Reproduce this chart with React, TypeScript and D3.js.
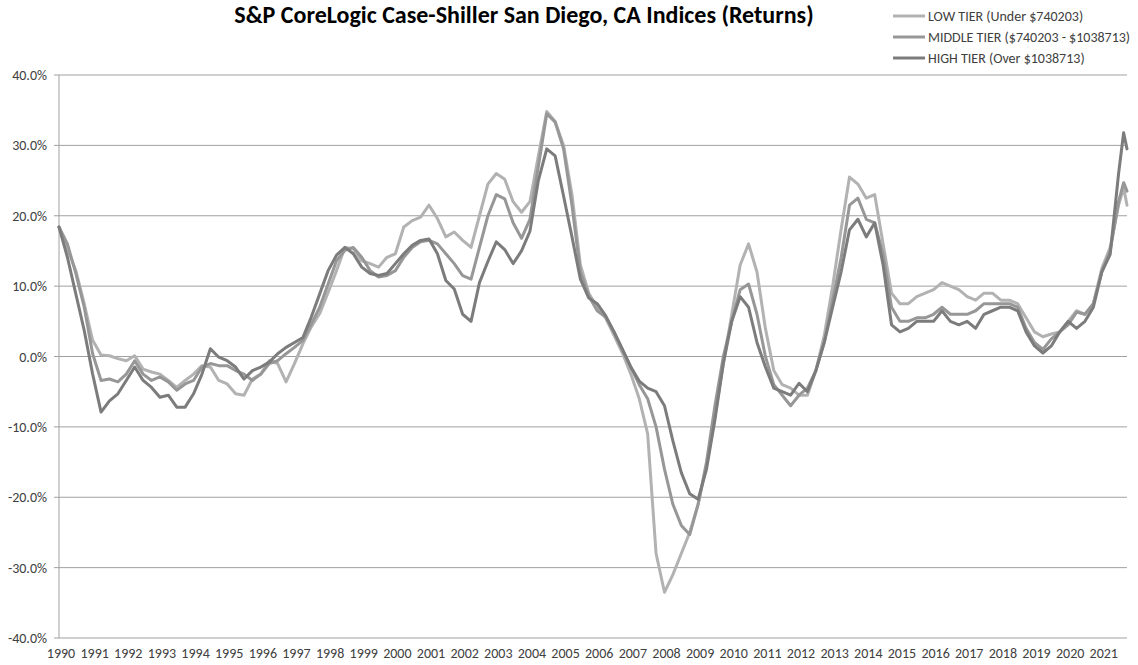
import React from 'react';
import * as d3 from 'd3';

const chartTitle = 'S&P CoreLogic Case-Shiller San Diego, CA Indices (Returns)';
const seriesNames = ['LOW TIER (Under $740203)', 'MIDDLE TIER ($740203 - $1038713)', 'HIGH TIER (Over $1038713)'];
const seriesColors = ['#b2b2b2', '#979797', '#7c7c7c'];
const yearLabels = ['1990','1991','1992','1993','1994','1995','1996','1997','1998','1999','2000','2001','2002','2003','2004','2005','2006','2007','2008','2009','2010','2011','2012','2013','2014','2015','2016','2017','2018','2019','2020','2021'];
const yTicks = [40, 30, 20, 10, 0, -10, -20, -30, -40];

const times = [
  1990.00,1990.25,1990.50,1990.75,1991.00,1991.25,1991.50,1991.75,1992.00,1992.25,1992.50,1992.75,
  1993.00,1993.25,1993.50,1993.75,1994.00,1994.25,1994.50,1994.75,1995.00,1995.25,1995.50,1995.75,
  1996.00,1996.25,1996.50,1996.75,1997.00,1997.25,1997.50,1997.75,1998.00,1998.25,1998.50,1998.75,
  1999.00,1999.25,1999.50,1999.75,2000.00,2000.25,2000.50,2000.75,2001.00,2001.25,2001.50,2001.75,
  2002.00,2002.25,2002.50,2002.75,2003.00,2003.25,2003.50,2003.75,2004.00,2004.25,2004.50,2004.75,
  2005.00,2005.25,2005.50,2005.75,2006.00,2006.25,2006.50,2006.75,2007.00,2007.25,2007.50,2007.75,
  2008.00,2008.25,2008.50,2008.75,2009.00,2009.25,2009.50,2009.75,2010.00,2010.25,2010.50,2010.75,
  2011.00,2011.25,2011.50,2011.75,2012.00,2012.25,2012.50,2012.75,2013.00,2013.25,2013.50,2013.75,
  2014.00,2014.25,2014.50,2014.75,2015.00,2015.25,2015.50,2015.75,2016.00,2016.25,2016.50,2016.75,
  2017.00,2017.25,2017.50,2017.75,2018.00,2018.25,2018.50,2018.75,2019.00,2019.25,2019.50,2019.75,
  2020.00,2020.25,2020.50,2020.75,2021.00,2021.25,2021.50,2021.65,2021.75
];

const lowTier = [
  18.4,15.3,12.2,7.5,2.3,0.2,0.1,-0.3,-0.6,0.1,-1.8,-2.2,
  -2.5,-3.4,-4.4,-3.4,-2.5,-1.3,-1.5,-3.4,-3.9,-5.3,-5.5,-3.2,
  -2.5,-0.6,-1.0,-3.6,-1.0,1.8,4.2,6.1,9.1,12.2,15.5,15.3,
  13.6,13.2,12.7,14.1,14.6,18.4,19.3,19.8,21.5,19.6,17.0,17.7,
  16.5,15.5,20.0,24.5,26.0,25.2,22.0,20.5,22.0,28.5,34.8,33.4,
  30.0,23.0,13.0,9.0,7.0,5.5,3.0,0.5,-2.5,-6.0,-11.0,-28.0,
  -33.5,-31.0,-28.0,-25.0,-21.0,-15.5,-8.5,-1.0,6.0,13.0,16.0,12.0,
  4.0,-2.0,-4.0,-4.5,-5.5,-5.5,-2.0,3.0,10.0,18.0,25.5,24.5,
  22.5,23.0,16.0,9.0,7.5,7.5,8.5,9.0,9.5,10.5,10.0,9.5,
  8.5,8.0,9.0,9.0,8.0,8.0,7.5,5.5,3.5,2.8,3.2,3.5,
  5.0,6.5,6.0,7.5,12.5,15.5,21.5,24.0,21.5
];

const middleTier = [
  18.4,16.0,11.8,7.0,0.4,-3.4,-3.2,-3.6,-2.5,-0.6,-2.5,-3.4,
  -2.9,-3.6,-4.8,-3.9,-3.4,-1.5,-1.0,-1.3,-1.3,-2.0,-2.5,-3.4,
  -2.5,-1.0,-0.6,0.4,1.3,2.3,4.6,7.0,10.3,13.6,15.1,15.5,
  14.1,12.2,11.3,11.5,12.2,14.1,15.5,16.3,16.5,16.0,14.6,13.2,
  11.5,11.0,15.5,20.0,23.0,22.4,19.0,16.8,19.5,27.0,34.5,33.3,
  29.5,21.5,12.0,8.6,6.5,5.6,3.5,1.0,-1.5,-4.0,-6.0,-10.0,
  -16.0,-21.0,-24.0,-25.3,-21.0,-15.0,-7.0,0.0,5.0,9.5,10.3,6.0,
  0.0,-4.0,-5.5,-7.0,-5.5,-4.5,-2.0,2.0,8.0,14.0,21.5,22.5,
  19.5,19.0,14.5,7.0,5.0,5.0,5.5,5.5,6.0,7.0,6.0,6.0,
  6.0,6.5,7.5,7.5,7.5,7.5,7.0,4.0,2.0,1.0,2.5,3.5,
  4.5,6.3,6.0,7.5,12.0,15.0,22.0,24.7,23.5
];

const highTier = [
  18.4,14.1,8.9,3.7,-2.5,-7.9,-6.3,-5.3,-3.4,-1.5,-3.4,-4.4,
  -5.8,-5.5,-7.2,-7.2,-5.3,-2.5,1.1,-0.1,-0.6,-1.5,-3.2,-2.0,
  -1.5,-0.8,0.4,1.3,2.0,2.7,5.6,8.9,12.2,14.4,15.5,14.6,
  12.7,11.8,11.5,11.8,13.2,14.6,15.8,16.5,16.7,14.6,10.8,9.6,
  6.0,5.0,10.5,13.5,16.3,15.2,13.2,15.0,17.8,25.0,29.5,28.5,
  22.8,17.0,11.0,8.3,7.5,5.8,3.5,1.0,-1.5,-3.5,-4.5,-5.0,
  -7.0,-12.0,-16.5,-19.5,-20.3,-16.0,-9.0,-1.0,5.0,8.5,7.0,2.0,
  -1.5,-4.5,-5.0,-5.5,-3.8,-5.0,-2.0,2.0,7.0,12.0,18.0,19.5,
  17.0,19.0,13.0,4.5,3.5,4.0,5.0,5.0,5.0,6.5,5.0,4.5,
  5.0,4.0,6.0,6.5,7.0,7.0,6.5,3.5,1.5,0.5,1.5,3.5,
  5.0,4.0,5.0,7.0,12.0,14.5,26.0,31.8,29.5
];

const FONT = 'Carlito, Calibri, Lato, "Liberation Sans", sans-serif';

export default function App() {
  const W = 1138, H = 665;
  const x = d3.scaleLinear().domain([1990, 2021.75]).range([59, 1127]);
  const y = d3.scaleLinear().domain([-40, 40]).range([638, 75]);
  const seriesData = [lowTier, middleTier, highTier];
  const lineGen = d3.line<number>().x((_, i) => x(times[i])).y((d) => y(d));
  const fmt = (v: number) => v.toFixed(1) + '%';

  return (
    <svg width={W} height={H} style={{ position: 'absolute', left: 0, top: 0, background: '#fff' }}>
      <rect width={W} height={H} fill="#ffffff" />
      <text x={524} y={23} textAnchor="middle" fontFamily={FONT} fontWeight="bold" fontSize={24} fill="#000">{chartTitle}</text>
      {yTicks.map((t) => (
        <g key={t}>
          <line x1={54} x2={x.range()[1]} y1={y(t)} y2={y(t)} stroke="#a0a0a0" strokeWidth={1} />
          <text x={47} y={y(t) + 5} textAnchor="end" fontFamily={FONT} fontSize={14} fill="#404040">{fmt(t)}</text>
        </g>
      ))}
      <line x1={59} x2={59} y1={y(40)} y2={y(-40)} stroke="#a0a0a0" strokeWidth={1} />
      {yearLabels.map((lab) => (
        <text key={lab} x={x(+lab) + 2} y={658} textAnchor="middle" fontFamily={FONT} fontSize={14} fill="#404040">{lab}</text>
      ))}
      {seriesData.map((s, i) => (
        <path key={i} d={lineGen(s) || ''} fill="none" stroke={seriesColors[i]} strokeWidth={3} strokeLinejoin="round" strokeLinecap="round" />
      ))}
      {seriesNames.map((name, i) => (
        <g key={name}>
          <line x1={893} x2={925} y1={16 + i * 21} y2={16 + i * 21} stroke={seriesColors[i]} strokeWidth={3} />
          <text x={928} y={16 + i * 21 + 5} fontFamily={FONT} fontSize={14} fill="#404040">{name}</text>
        </g>
      ))}
    </svg>
  );
}
